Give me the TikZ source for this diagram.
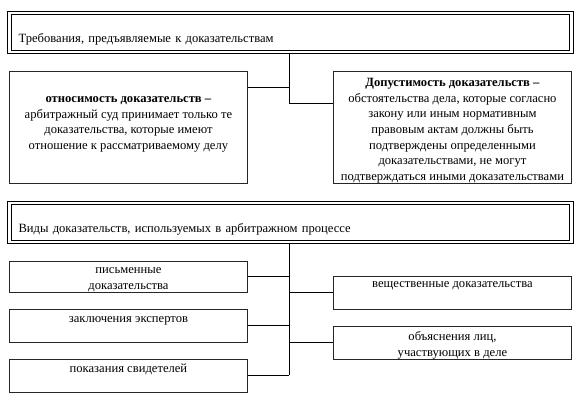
\documentclass[tikz,border=0pt]{standalone}
\usepackage{fontspec}
\setmainfont{Liberation Serif}
\begin{document}
\begin{tikzpicture}[x=1pt,y=-1pt,
		box/.style={draw=black!85, line width=0.9pt, anchor=north west, minimum width=238pt, align=center, inner sep=0pt, font=\fontsize{12.6}{15.7}\selectfont},
		head/.style={draw=black, line width=1.1pt, double, double distance=2.4pt, anchor=north west, text width=544pt, align=left, inner xsep=9pt, inner ysep=7pt, text height=22pt, text depth=3pt, font=\fontsize{12.6}{15.7}\selectfont},
		link/.style={draw=black, line width=0.9pt}]
		\useasboundingbox (0,0) rectangle (579,403);
		\node[head] (h1) at (9,12.5) {Требования, предъявляемые к доказательствам};
		\node[box, text height=78.1pt, text depth=33.9pt] (otn) at (9,71) {\textbf{относимость доказательств –}\\арбитражный суд принимает только те\\доказательства, которые имеют\\отношение к рассматриваемому делу};
		\node[box, text height=109.2pt, text depth=2.8pt] (dop) at (333,71) {\textbf{Допустимость доказательств –}\\обстоятельства дела, которые согласно\\закону или иным нормативным\\правовым актам должны быть\\подтверждены определенными\\доказательствами, не могут\\подтверждаться иными доказательствами};
		\coordinate (s1) at (289,103);
		\draw[link] (h1.south -| s1) -- (s1) -- (dop.west |- s1);
		\draw[link] (otn.east |- 0,87) -- (s1 |- 0,87);
		\node[head] (h2) at (9,202.5) {Виды доказательств, используемых в арбитражном процессе};
		\node[box, text height=27.7pt, text depth=3.3pt] (pis) at (9,261) {письменные\\доказательства};
		\node[box, text height=13pt, text depth=20pt] (zak) at (9,309) {заключения экспертов};
		\node[box, text height=13pt, text depth=20pt] (pok) at (9,359) {показания свидетелей};
		\node[box, text height=11pt, text depth=22pt] (ves) at (333,276) {вещественные доказательства};
		\node[box, text height=29.7pt, text depth=3.3pt] (obj) at (333,326) {объяснения лиц,\\участвующих в деле};
		\coordinate (s2) at (289,375.5);
		\draw[link] (h2.south -| s2) -- (s2);
		\draw[link] (pis.east) -- (pis.east -| s2);
		\draw[link] (zak.east) -- (zak.east -| s2);
		\draw[link] (pok.east) -- (pok.east -| s2);
		\draw[link] (s2 |- ves.west) -- (ves.west);
		\draw[link] (s2 |- obj.west) -- (obj.west);
	\end{tikzpicture}
\end{document}
